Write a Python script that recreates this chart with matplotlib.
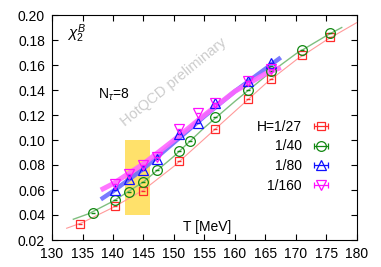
import numpy as np
import matplotlib
matplotlib.use("Agg")
import matplotlib.pyplot as plt

plt.rcParams['font.family'] = ['Liberation Sans', 'DejaVu Sans']
plt.rcParams['mathtext.fontset'] = 'custom'
plt.rcParams['mathtext.rm'] = 'Liberation Sans'
plt.rcParams['mathtext.it'] = 'Liberation Sans:italic'

# ---- data ----
labels = ["H=1/27", "1/40", "1/80", "1/160"]

T_27 = [134.6, 140.4, 144.9, 150.9, 156.7, 162.2, 165.9, 171.0, 175.6]
chi_27 = [0.0326, 0.0470, 0.0596, 0.0830, 0.1087, 0.1328, 0.1492, 0.1678, 0.1822]

T_40 = [136.8, 140.4, 142.7, 144.9, 147.2, 150.9, 152.6, 156.7, 162.2, 165.9, 171.0, 175.6]
chi_40 = [0.0418, 0.0520, 0.0582, 0.0667, 0.0757, 0.0913, 0.0992, 0.1185, 0.1404, 0.1552, 0.1723, 0.1854]

T_80 = [140.4, 142.7, 144.9, 147.2, 150.9, 153.9, 156.7, 162.2, 165.9]
chi_80 = [0.0603, 0.0690, 0.0763, 0.0847, 0.1045, 0.1134, 0.1294, 0.1472, 0.1614]

T_160 = [140.4, 142.7, 144.9, 147.2, 150.9, 153.9, 156.7, 162.2, 165.9]
chi_160 = [0.0650, 0.0730, 0.0803, 0.0866, 0.1086, 0.1218, 0.1294, 0.1472, 0.1565]

# fit curves read along the drawn lines / bands
fitT_27 = [132.4, 135, 140, 145, 150, 155, 160, 165, 170, 175, 180]
fit_27 = [0.0294, 0.0340, 0.0460, 0.0600, 0.0790, 0.1010, 0.1230, 0.1450, 0.1640, 0.1800, 0.1940]

fitT_40 = [133.5, 136, 140, 145, 150, 155, 160, 165, 170, 175, 177.5]
fit_40 = [0.0366, 0.0410, 0.0510, 0.0665, 0.0870, 0.1100, 0.1310, 0.1510, 0.1690, 0.1835, 0.1900]

fitT_80 = [138, 140, 145, 150, 155, 160, 165, 167.5]
fit_80 = [0.0525, 0.0590, 0.0770, 0.0980, 0.1190, 0.1390, 0.1570, 0.1660]

fitT_160 = [138, 140, 145, 150, 155, 160, 165, 167.5]
fit_160 = [0.0600, 0.0650, 0.0810, 0.1000, 0.1200, 0.1390, 0.1530, 0.1580]

band_T = [142.0, 146.0]
band_chi = [0.04, 0.10]

# ---- figure ----
FS = 10
fig = plt.figure(figsize=(3.81, 2.67), dpi=100)
ax = fig.add_axes([52/381, 1-240/267, (357-52)/381, (240-15)/267])

ax.fill_between(band_T, band_chi[0], band_chi[1], color='#ffe16b', lw=0, zorder=0)

ax.plot(fitT_27, fit_27, color='#ff9a9a', lw=0.8, zorder=1)
ax.plot(fitT_40, fit_40, color='#7fbf7f', lw=1.0, zorder=1)
ax.plot(fitT_80, fit_80, color='#6c6cff', lw=3.2, alpha=0.9, zorder=1, solid_capstyle='butt')
ax.plot(fitT_160, fit_160, color='#ff66ff', lw=3.6, alpha=0.9, zorder=1, solid_capstyle='butt')

ax.text(150.0, 0.1464, "HotQCD preliminary", color='#cccccc', fontsize=10.5,
        rotation=39, ha='center', va='center', rotation_mode='anchor', zorder=0.5)

series = [
    (T_27, chi_27, 's', '#ff2a2a', 6.0),
    (T_40, chi_40, 'o', '#118811', 7.0),
    (T_80, chi_80, '^', '#1010ff', 7.0),
    (T_160, chi_160, 'v', '#ff10ff', 7.0),
]
handles = []
for (T, c, m, col, ms), lab in zip(series, labels):
    ax.plot(T, c, ls='none', marker=m, ms=ms, mfc='none', mec=col, mew=0.9, zorder=3)
    ax.plot(T, c, ls='none', marker='_', ms=3, mec=col, mew=1.0, zorder=3)
    h = ax.errorbar([np.nan], [np.nan], xerr=[1.0], fmt=m, ms=ms, mfc='none', mec=col,
                    mew=0.9, ecolor=col, elinewidth=0.9, capsize=2.5, capthick=0.9, label=lab)
    handles.append(h)

ax.set_xlim(130, 180)
ax.set_ylim(0.02, 0.20)
ax.set_xticks(np.arange(130, 181, 5))
ax.set_yticks(np.arange(0.02, 0.201, 0.02))
ax.set_yticklabels([f"{v:.2f}" for v in np.arange(0.02, 0.201, 0.02)])
ax.tick_params(direction='in', length=4, width=0.8, top=True, right=True,
               labelsize=FS, pad=5, colors='black')
for s in ax.spines.values():
    s.set_linewidth(0.8)

ax.text(0.05, 0.915, r'$\chi_2^{B}$', transform=ax.transAxes, fontsize=11, ha='left', va='center')
ax.text(0.15, 0.647, r'N$_\tau$=8', transform=ax.transAxes, fontsize=FS, ha='left', va='center')
ax.text(0.43, 0.057, 'T [MeV]', transform=ax.transAxes, fontsize=FS, ha='left', va='center')

leg = ax.legend(handles=handles, labels=labels, loc='upper right', bbox_to_anchor=(0.915, 0.535),
                frameon=False, markerfirst=False, fontsize=FS, handlelength=1.5,
                handletextpad=0.6, labelspacing=0.42, borderpad=0, borderaxespad=0)

fig.savefig('out.png', dpi=100)
